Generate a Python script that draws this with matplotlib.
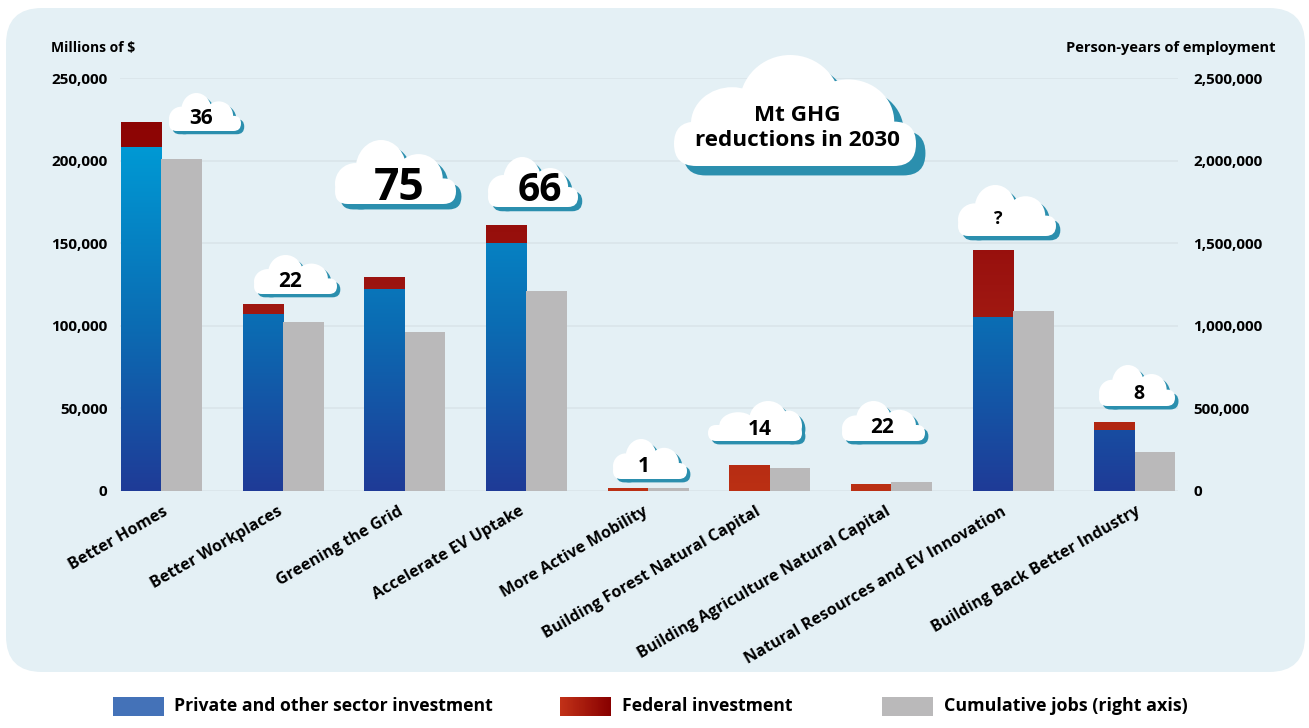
import matplotlib
matplotlib.use("Agg")
import matplotlib.pyplot as plt
import numpy as np
from matplotlib.colors import LinearSegmentedColormap
from matplotlib.patches import Ellipse, FancyBboxPatch, Rectangle
from matplotlib.transforms import ScaledTranslation

W, H = 1309, 728

categories = ["Better Homes", "Better Workplaces", "Greening the Grid", "Accelerate EV Uptake",
              "More Active Mobility", "Building Forest Natural Capital",
              "Building Agriculture Natural Capital", "Natural Resources and EV Innovation",
              "Building Back Better Industry"]
private_inv = [208000, 107000, 122500, 150000, 0, 0, 0, 105500, 37000]
federal_inv = [15500, 6000, 7000, 11000, 2000, 16000, 4000, 40500, 5000]
jobs = [2010000, 1020000, 965000, 1210000, 18000, 139000, 54000, 1090000, 235000]
left_ticks = [0, 50000, 100000, 150000, 200000, 250000]
right_ticks = [0, 500000, 1000000, 1500000, 2000000, 2500000]
ghg_labels = ["36", "22", "75", "66", "1", "14", "22", "?", "8"]

plt.rcParams["font.family"] = "Open Sans"
plt.rcParams["font.weight"] = "bold"

blue_cmap = LinearSegmentedColormap.from_list(
    "blue", [(0, "#1f3b97"), (0.4, "#0b6cb3"), (0.83, "#0099d4"), (1, "#00a0da")])
red_cmap = LinearSegmentedColormap.from_list("red", ["#bb3014", "#9c1410", "#880000"])

fig = plt.figure(figsize=(W / 100, H / 100), dpi=100, facecolor="white")

# background panel lives on a pixel-coordinate layer
bg = fig.add_axes([0, 0, 1, 1], zorder=0)
bg.set_xlim(0, W)
bg.set_ylim(H, 0)
bg.axis("off")
bg.add_patch(FancyBboxPatch((6, 8), 1299, 664, boxstyle="round,pad=0,rounding_size=36",
                            fc="#e4f0f5", ec="none"))

# axes box in pixels: left, right, y of 0 and y of top tick
ax_l, ax_r, ax_b, ax_t = 120, 1178, 491, 78
ax = fig.add_axes([ax_l / W, 1 - ax_b / H, (ax_r - ax_l) / W, (ax_b - ax_t) / H], zorder=1)
ax.patch.set_alpha(0)
x = np.arange(len(categories))
bar_w = 0.333
ax.set_xlim(-0.34, 8.355)
ax.set_ylim(0, 250000)

grad = np.linspace(1, 0, 256).reshape(-1, 1)


def gradient_bar(xpos, bottom, height, cmap):
    bar = ax.bar(xpos, height, bar_w, bottom=bottom, align="edge", color="none", lw=0)[0]
    im = ax.imshow(grad, cmap=cmap, vmin=0, vmax=1, extent=[-0.34, 8.355, 0, 250000],
                   aspect="auto", zorder=2)
    im.set_clip_path(bar)


for i in x:
    if private_inv[i] > 0:
        gradient_bar(i - bar_w, 0, private_inv[i], blue_cmap)
    gradient_bar(i - bar_w, private_inv[i], federal_inv[i], red_cmap)

ax.set_xlim(-0.34, 8.355)
ax.set_ylim(0, 250000)
ax.set_yticks(left_ticks)
ax.set_yticklabels([f"{v:,}" for v in left_ticks], fontsize=11)
ax.set_xticks(x)
ax.set_xticklabels(categories, rotation=30, ha="right", rotation_mode="anchor", fontsize=11.6)
ax.tick_params(axis="both", length=0)
ax.tick_params(axis="y", pad=9)
ax.tick_params(axis="x", pad=9)
# nudge the slanted labels left, in pixels
label_shift = [1, -6, -7, -7, -5, -14, -6, -12, 0]
for lab, dx in zip(ax.get_xticklabels(), label_shift):
    lab.set_transform(lab.get_transform() + ScaledTranslation(dx / 100, 0, fig.dpi_scale_trans))
ax.grid(axis="y", color="#dae5ea", lw=1.2, zorder=0)
ax.set_axisbelow(True)
for s in ax.spines.values():
    s.set_visible(False)

ax2 = ax.twinx()
ax2.patch.set_alpha(0)
ax2.bar(x, jobs, bar_w, align="edge", color="#bab9ba", lw=0, zorder=2)
ax2.set_ylim(0, 2500000)
ax2.set_yticks(right_ticks)
ax2.set_yticklabels([f"{v:,}" for v in right_ticks], fontsize=11)
ax2.tick_params(axis="y", length=0, pad=11)
for s in ax2.spines.values():
    s.set_visible(False)

# overlay for clouds and legend
top = fig.add_axes([0, 0, 1, 1], zorder=3)
top.set_xlim(0, W)
top.set_ylim(H, 0)
top.axis("off")
top.patch.set_alpha(0)

# lobes: (relative centre x, relative centre y, relative half width, relative half height)
LOBES_BIG = [(0.48, 0.45, 0.21, 0.45), (0.24, 0.62, 0.17, 0.33), (0.72, 0.6, 0.19, 0.38)]
LOBES_A = [(0.38, 0.46, 0.21, 0.46), (0.69, 0.6, 0.2, 0.38), (0.17, 0.68, 0.17, 0.32)]
LOBES_B = [(0.64, 0.45, 0.2, 0.45), (0.32, 0.62, 0.2, 0.34), (0.86, 0.62, 0.14, 0.38)]


def cloud_shape(x0, y0, w, h, lobes, color, z):
    pill_top = y0 + 0.60 * h
    top.add_patch(FancyBboxPatch((x0, pill_top), w, 0.40 * h,
                                 boxstyle=f"round,pad=0,rounding_size={0.199 * h}",
                                 fc=color, ec="none", zorder=z))
    for cx, cy, rx, ry in lobes:
        top.add_patch(Ellipse((x0 + cx * w, y0 + cy * h), 2 * rx * w, 2 * ry * h,
                              fc=color, ec="none", zorder=z))


def cloud(x0, y0, x1, y1, lobes=LOBES_A):
    w, h = x1 - x0, y1 - y0
    off = 0.085 * h
    cloud_shape(x0 + off, y0 + off, w, h, lobes, "#2b8fae", 5)
    cloud_shape(x0, y0, w, h, lobes, "white", 6)


# cloud boxes in pixels, and where each number sits
cloud_boxes = [(169, 93, 241, 131), (254, 255, 337, 294), (335, 140, 456, 204), (488, 157, 578, 207),
               (613, 439, 687, 479), (708, 401, 802, 441), (842, 401, 925, 441), (958, 185, 1056, 236),
               (1099, 365, 1175, 406)]
cloud_lobes = [LOBES_A, LOBES_A, LOBES_A, LOBES_A, LOBES_A, LOBES_B, LOBES_A, LOBES_A, LOBES_A]
cloud_text = [(201, 117, 15), (290, 280, 15), (399, 184, 32), (540, 187, 28), (644, 465, 15),
              (760, 428, 15), (882, 426, 15), (998, 217, 13), (1139, 392, 14)]
for box, lobes, lab, (tx, ty, fs) in zip(cloud_boxes, cloud_lobes, ghg_labels, cloud_text):
    cloud(*box, lobes)
    top.text(tx, ty + fs * 0.13, lab, ha="center", va="center", fontsize=fs, color="black", zorder=7)

cloud(674, 55, 916, 166, LOBES_BIG)
top.text(797, 128, "Mt GHG\nreductions in 2030", ha="center", va="center", fontsize=16.2,
         linespacing=1.2, color="black", zorder=7)

top.text(51, 48, "Millions of $", ha="left", va="center", fontsize=10, color="black")
top.text(1276, 48, "Person-years of employment", ha="right", va="center", fontsize=10.5, color="black")

# legend
top.add_patch(Rectangle((113, 697), 51, 19, fc="#4472b8", ec="none"))
top.imshow(np.linspace(0, 1, 64).reshape(1, -1), cmap=LinearSegmentedColormap.from_list("lg", ["#c23218", "#880000"]),
           extent=[560, 611, 716, 697], aspect="auto", zorder=2)
top.add_patch(Rectangle((882, 697), 51, 19, fc="#bab9ba", ec="none"))
top.set_xlim(0, W)
top.set_ylim(H, 0)
top.text(174, 706, "Private and other sector investment", ha="left", va="center", fontsize=12.7)
top.text(622, 706, "Federal investment", ha="left", va="center", fontsize=12.7)
top.text(944, 706, "Cumulative jobs (right axis)", ha="left", va="center", fontsize=12.9)

fig.savefig("out.png", dpi=100)
